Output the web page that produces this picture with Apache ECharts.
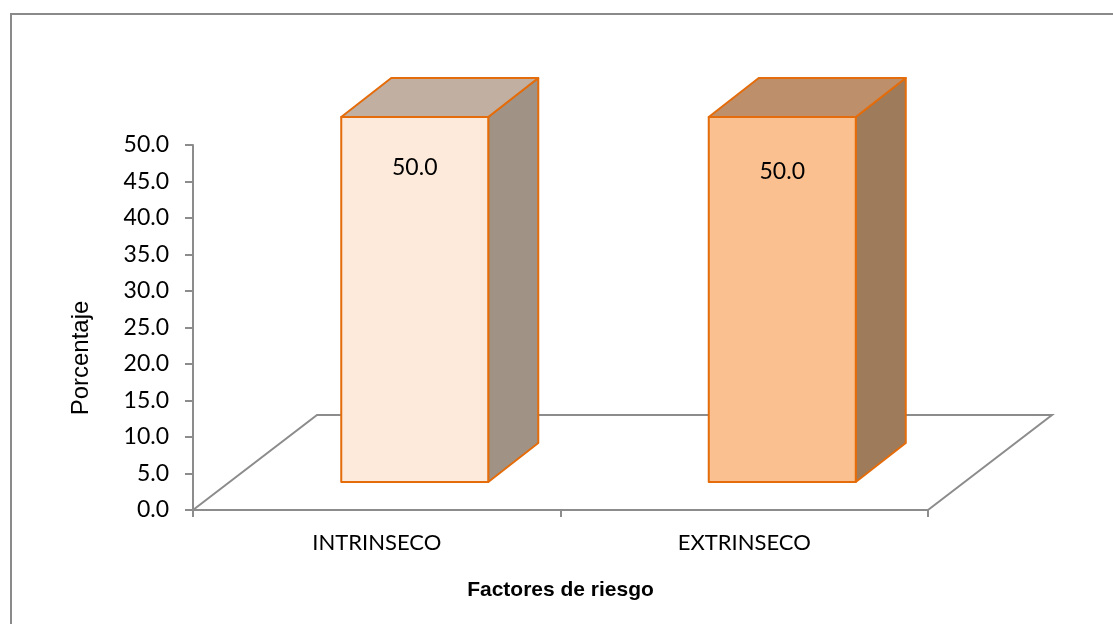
<!DOCTYPE html>
<html>
<head>
<meta charset="utf-8">
<script src="https://cdn.jsdelivr.net/npm/echarts@6/dist/echarts.min.js"></script>
<style>
  html, body { margin: 0; padding: 0; background: #ffffff; }
  #chart { width: 1113px; height: 624px; }
</style>
</head>
<body>
<div id="chart"></div>
<script>
// Chart data
const categories = ['INTRINSECO', 'EXTRINSECO'];
const values = [50.0, 50.0];
const yMin = 0, yMax = 50, yStep = 5;
const yAxisTitle = 'Porcentaje';
const xAxisTitle = 'Factores de riesgo';

// Face colours of each 3D bar (front / top / right side)
const frontColors = ['#FDEADA', '#FAC090'];
const topColors = ['#C1B0A2', '#BE8F6B'];
const sideColors = ['#A09386', '#9D7B5B'];

const EDGE = '#E46C0A';
const LINE = '#8C8C8C';

// Oblique projection used for the floor and the bars standing on it
const FLOOR_DX = 124, FLOOR_DY = -95;
const BAR_DX = 38, BAR_DY = -28;
const BAR_DEPTH_DX = 50, BAR_DEPTH_DY = -39;
const BAR_WIDTH_RATIO = 0.4;

function renderFloor(params, api) {
  const bw = api.size([1, 0])[0];
  const a = api.coord([0, 0]);
  const b = api.coord([categories.length - 1, 0]);
  const x0 = a[0] - bw / 2, x1 = b[0] + bw / 2, y = a[1];
  return {
    type: 'polyline',
    silent: true,
    shape: { points: [[x0, y], [x0 + FLOOR_DX, y + FLOOR_DY], [x1 + FLOOR_DX, y + FLOOR_DY], [x1, y]] },
    style: { fill: 'none', stroke: LINE, lineWidth: 2 }
  };
}

function renderBar(params, api) {
  const i = api.value(0);
  const v = api.value(1);
  const bw = api.size([1, 0])[0];
  const top = api.coord([i, v]);
  const base = api.coord([i, 0]);
  const w = bw * BAR_WIDTH_RATIO;
  const xl = top[0] + BAR_DX - w / 2, xr = xl + w;
  const yt = top[1] + BAR_DY, yb = base[1] + BAR_DY;
  const dx = BAR_DEPTH_DX, dy = BAR_DEPTH_DY;
  const edge = { stroke: EDGE, lineWidth: 2, lineJoin: 'round' };
  return {
    type: 'group',
    children: [
      {
        type: 'polygon',
        shape: { points: [[xr, yb], [xr + dx, yb + dy], [xr + dx, yt + dy], [xr, yt]] },
        style: Object.assign({ fill: sideColors[i] }, edge)
      },
      {
        type: 'polygon',
        shape: { points: [[xl, yt], [xl + dx, yt + dy], [xr + dx, yt + dy], [xr, yt]] },
        style: Object.assign({ fill: topColors[i] }, edge)
      },
      {
        type: 'rect',
        shape: { x: xl, y: yt, width: w, height: yb - yt },
        style: Object.assign({ fill: frontColors[i] }, edge)
      },
      {
        type: 'text',
        x: (xl + xr) / 2,
        y: yt + 51 + i * 4,
        style: {
          text: v.toFixed(1),
          align: 'center',
          verticalAlign: 'middle',
          fontFamily: 'Lato',
          fontSize: 23,
          fill: '#000000'
        }
      }
    ]
  };
}

const chart = echarts.init(document.getElementById('chart'), null, { renderer: 'canvas' });

chart.setOption({
  animation: false,
  backgroundColor: '#ffffff',
  graphic: [
    {
      type: 'rect',
      silent: true,
      shape: { x: 11, y: 14, width: 1200, height: 700 },
      style: { fill: 'none', stroke: '#8A8A8A', lineWidth: 2 }
    },
    {
      // vertical axis title, set a little below the middle of the value axis
      type: 'text',
      silent: true,
      x: 81,
      y: 358,
      rotation: Math.PI / 2,
      style: {
        text: yAxisTitle,
        align: 'center',
        verticalAlign: 'middle',
        fontFamily: 'Liberation Sans',
        fontSize: 24,
        fill: '#000000'
      }
    }
  ],
  grid: {
    left: 193, right: 185, top: 145, bottom: 114,
    containLabel: false,
    outerBoundsMode: 'none'
  },
  xAxis: {
    type: 'category',
    data: categories,
    boundaryGap: true,
    axisLine: { lineStyle: { color: LINE, width: 2 } },
    axisTick: { show: true, length: 7, lineStyle: { color: LINE, width: 2 } },
    axisLabel: { margin: 22, fontFamily: 'Lato', fontSize: 22, color: '#000000' },
    name: xAxisTitle,
    nameLocation: 'middle',
    nameGap: 70,
    nameTextStyle: { fontFamily: 'Liberation Sans', fontWeight: 'bold', fontSize: 21, color: '#000000' }
  },
  yAxis: {
    type: 'value',
    min: yMin,
    max: yMax,
    interval: yStep,
    axisLine: { show: true, lineStyle: { color: LINE, width: 2 } },
    axisTick: { show: true, length: 8, lineStyle: { color: LINE, width: 2 } },
    splitLine: { show: false },
    axisLabel: {
      margin: 24,
      formatter: (val) => val.toFixed(1),
      fontFamily: 'Lato',
      fontSize: 23,
      color: '#000000'
    }
  },
  series: [
    {
      type: 'custom',
      name: 'floor',
      renderItem: renderFloor,
      data: [[0, 0]],
      clip: false,
      silent: true,
      z: 1
    },
    {
      type: 'custom',
      name: yAxisTitle,
      renderItem: renderBar,
      data: categories.map((c, i) => [i, values[i]]),
      encode: { x: 0, y: 1 },
      clip: false,
      z: 2
    }
  ]
});
</script>
</body>
</html>
